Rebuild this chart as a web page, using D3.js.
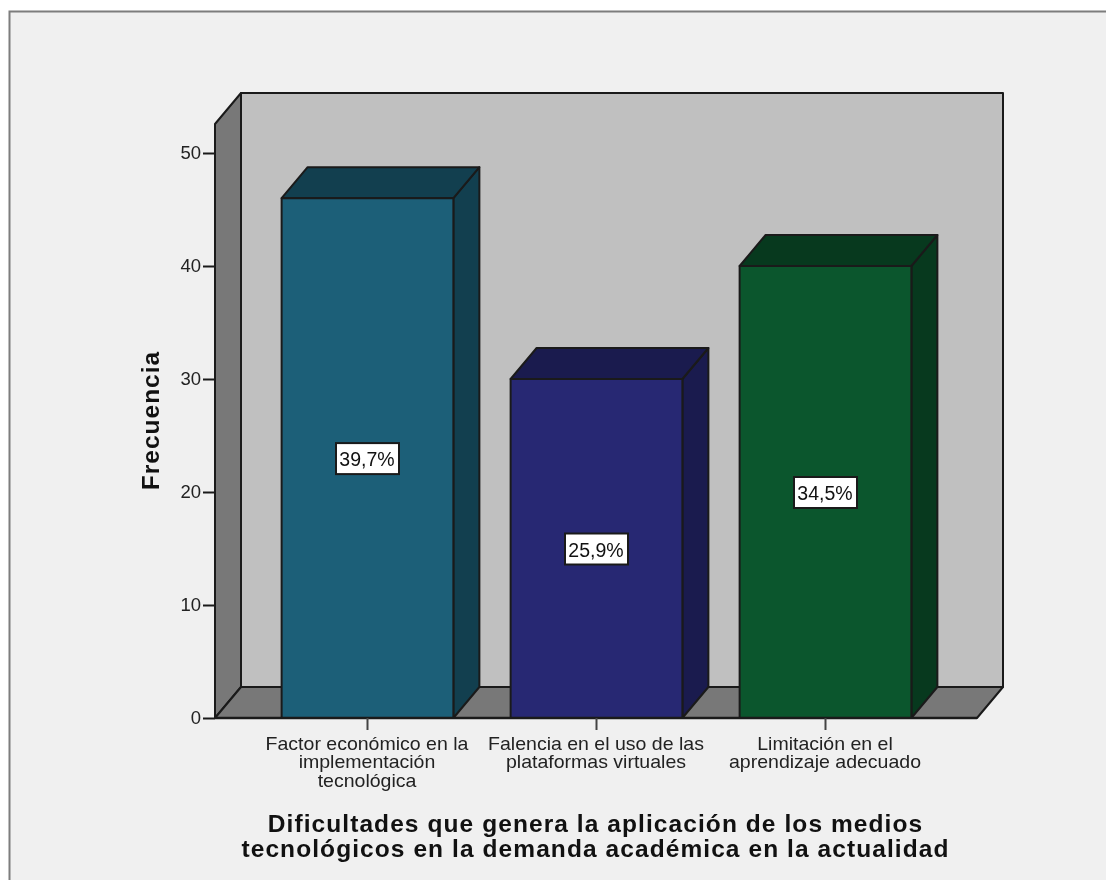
<!DOCTYPE html>
<html>
<head>
<meta charset="utf-8">
<script src="https://cdn.jsdelivr.net/npm/d3@7"></script>
<style>
  html, body { margin: 0; padding: 0; background: #fff; overflow: hidden; }
  /* the reference is a slightly soft upscaled screenshot */
  svg { display: block; font-family: "Liberation Sans", Arial, sans-serif; filter: blur(0.45px); }
</style>
</head>
<body>
<script>
const categories = ["Factor económico", "Falencia en el uso", "Limitación"];
const categoryLines = [
  ["Factor económico en la", "implementación", "tecnológica"],
  ["Falencia en el uso de las", "plataformas virtuales"],
  ["Limitación en el", "aprendizaje adecuado"]
];
const frequencies = [46, 30, 40];
const percentLabels = ["39,7%", "25,9%", "34,5%"];
const barColors = ["#1c5f78", "#272873", "#0b562d"];
const barTopColors = ["#123f4f", "#1a1b4e", "#07391e"];
const yTicks = [0, 10, 20, 30, 40, 50];
const yTitle = "Frecuencia";
const xTitleLines = [
  "Dificultades que genera la aplicación de los medios",
  "tecnológicos en la demanda académica en la actualidad"
];

const width = 1106, height = 880;
const ink = "#1a1a1a";
// 3d offset of the back wall
const dx = 26, dy = -31;

const svg = d3.select("body").append("svg")
  .attr("width", width)
  .attr("height", height);

// outer panel, left and top border only (the picture is cut on the other sides)
svg.append("rect").attr("x", 9.5).attr("y", 11.5)
  .attr("width", width).attr("height", height)
  .attr("fill", "#f0f0f0").attr("stroke", "#7d7d7d").attr("stroke-width", 2);

const x = d3.scaleBand().domain(categories).range([253, 940])
  .paddingInner(0.25).paddingOuter(0.125);
const y = d3.scaleLinear().domain([0, 50]).range([718, 153]);

const x0 = 215, x1 = 977;
const yBase = y(0), yTop = 124;

function poly(points, fill, sw = 2) {
  return svg.append("path")
    .attr("d", "M" + points.map(p => p.join(",")).join("L") + "Z")
    .attr("fill", fill)
    .attr("stroke", ink)
    .attr("stroke-width", sw)
    .attr("stroke-linejoin", "round");
}

// back wall, side wall, floor
poly([[x0 + dx, yTop + dy], [x1 + dx, yTop + dy], [x1 + dx, yBase + dy], [x0 + dx, yBase + dy]], "#c0c0c0");
poly([[x0, yTop], [x0 + dx, yTop + dy], [x0 + dx, yBase + dy], [x0, yBase]], "#787878");
poly([[x0, yBase], [x0 + dx, yBase + dy], [x1 + dx, yBase + dy], [x1, yBase]], "#787878");

// bars
categories.forEach((c, i) => {
  const left = x(c), right = left + x.bandwidth(), top = y(frequencies[i]);
  poly([[right, top], [right + dx, top + dy], [right + dx, yBase + dy], [right, yBase]], barTopColors[i]);
  poly([[left, top], [left + dx, top + dy], [right + dx, top + dy], [right, top]], barTopColors[i]);
  poly([[left, top], [right, top], [right, yBase], [left, yBase]], barColors[i]);

  // percent label
  const cx = left + x.bandwidth() / 2, cy = y(frequencies[i] / 2);
  svg.append("rect")
    .attr("x", cx - 31.5).attr("y", cy - 15)
    .attr("width", 63).attr("height", 31)
    .attr("fill", "#fff").attr("stroke", ink).attr("stroke-width", 2);
  svg.append("text")
    .attr("transform", `translate(${cx - 0.5},${cy + 8}) scale(0.93,1)`)
    .attr("text-anchor", "middle")
    .attr("font-size", 21)
    .attr("fill", "#111")
    .text(percentLabels[i]);
});

// y axis
const yAxis = svg.append("g")
  .attr("transform", `translate(${x0},0)`)
  .call(d3.axisLeft(y).tickValues(yTicks).tickSize(12).tickPadding(2).tickSizeOuter(0));
yAxis.select(".domain").remove();
yAxis.selectAll("line").attr("stroke", ink).attr("stroke-width", 2);
yAxis.selectAll("text").attr("font-size", 18.5).attr("font-family", "inherit").attr("fill", "#222");

// x axis
svg.append("line").attr("x1", x0).attr("x2", x1).attr("y1", yBase).attr("y2", yBase)
  .attr("stroke", ink).attr("stroke-width", 2.5);
const xAxis = svg.append("g")
  .attr("transform", `translate(0,${yBase})`)
  .call(d3.axisBottom(x).tickSize(12).tickSizeOuter(0));
xAxis.select(".domain").remove();
xAxis.selectAll("line").attr("stroke", "#444").attr("stroke-width", 2);
xAxis.selectAll("text").remove();

// category labels are wider than the font, stretch them a little
categoryLines.forEach((lines, i) => {
  const cx = x(categories[i]) + x.bandwidth() / 2;
  lines.forEach((line, j) => {
    svg.append("text")
      .attr("transform", `translate(${cx - 0.5},${750 + j * 18.4}) scale(1.085,1)`)
      .attr("text-anchor", "middle")
      .attr("font-size", 18)
      .attr("fill", "#222")
      .text(line);
  });
});

// axis titles
svg.append("text")
  .attr("transform", "translate(159,420.5) rotate(-90)")
  .attr("text-anchor", "middle")
  .attr("font-size", 24.5)
  .attr("font-weight", "bold")
  .attr("letter-spacing", 1)
  .attr("fill", "#111")
  .text(yTitle);

xTitleLines.forEach((line, j) => {
  svg.append("text")
    .attr("x", 595.5).attr("y", 832 + j * 25)
    .attr("text-anchor", "middle")
    .attr("font-size", 24.5)
    .attr("font-weight", "bold")
    .attr("letter-spacing", 1.08)
    .attr("fill", "#111")
    .text(line);
});
</script>
</body>
</html>
